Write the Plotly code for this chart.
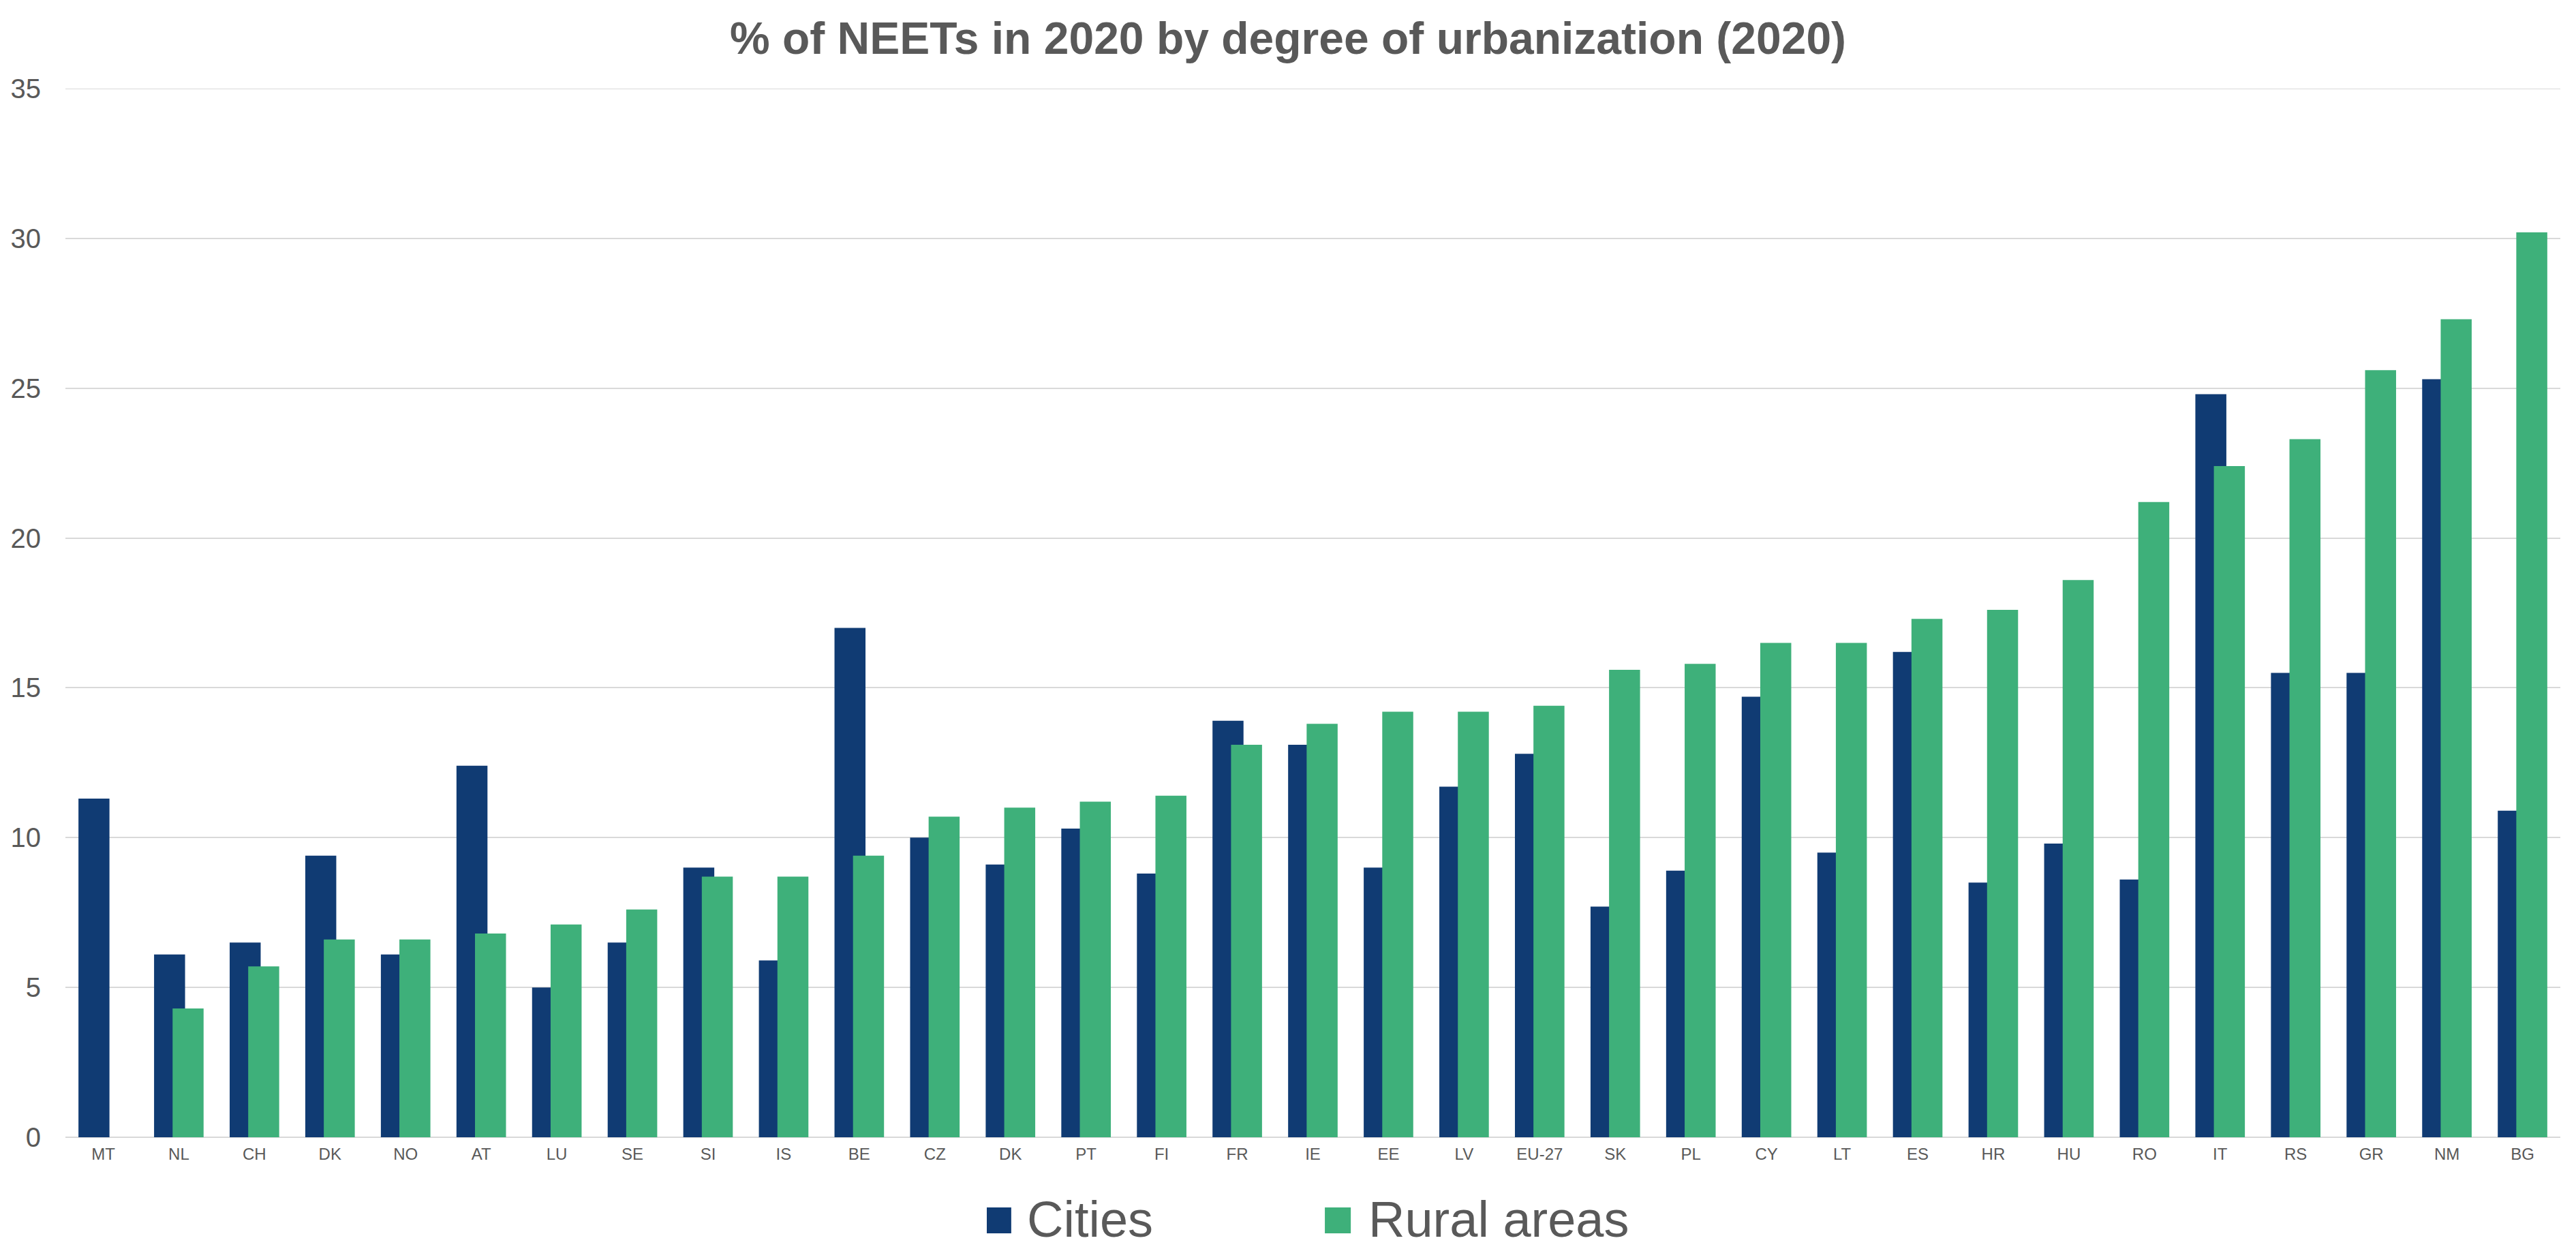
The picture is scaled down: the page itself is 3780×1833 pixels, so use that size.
import plotly.graph_objects as go

countries = ["MT", "NL", "CH", "DK", "NO", "AT", "LU", "SE", "SI", "IS", "BE", "CZ", "DK", "PT", "FI", "FR",
             "IE", "EE", "LV", "EU-27", "SK", "PL", "CY", "LT", "ES", "HR", "HU", "RO", "IT", "RS", "GR", "NM", "BG"]
cities = [11.3, 6.1, 6.5, 9.4, 6.1, 12.4, 5.0, 6.5, 9.0, 5.9, 17.0, 10.0, 9.1, 10.3, 8.8, 13.9,
          13.1, 9.0, 11.7, 12.8, 7.7, 8.9, 14.7, 9.5, 16.2, 8.5, 9.8, 8.6, 24.8, 15.5, 15.5, 25.3, 10.9]
rural = [None, 4.3, 5.7, 6.6, 6.6, 6.8, 7.1, 7.6, 8.7, 8.7, 9.4, 10.7, 11.0, 11.2, 11.4, 13.1,
         13.8, 14.2, 14.2, 14.4, 15.6, 15.8, 16.5, 16.5, 17.3, 17.6, 18.6, 21.2, 22.4, 23.3, 25.6, 27.3, 30.2]
y_ticks = [0, 5, 10, 15, 20, 25, 30, 35]

BLUE = "#103B73"
GREEN = "#3EB07A"
TXT = "#595959"
GRID = "#D9D9D9"
FONT = "Liberation Sans, Arial"

idx = list(range(len(countries)))

fig = go.Figure()
fig.add_trace(go.Bar(x=idx, y=cities, name="Cities", marker=dict(color=BLUE, line=dict(width=0)),
                     width=0.41, offset=-0.3275, showlegend=False))
fig.add_trace(go.Bar(x=idx, y=rural, name="Rural areas", marker=dict(color=GREEN, line=dict(width=0)),
                     width=0.41, offset=-0.0825, showlegend=False))

# manual legend (large square swatches)
legend_items = [("Cities", BLUE, 0.3693, 0.3791, 0.3849),
                ("Rural areas", GREEN, 0.5048, 0.5152, 0.5217)]
for name, col, x0, x1, xt in legend_items:
    fig.add_shape(type="rect", xref="paper", yref="paper", x0=x0, x1=x1, y0=-0.0916, y1=-0.0669,
                  fillcolor=col, line=dict(width=0))
    fig.add_annotation(xref="paper", yref="paper", x=xt, y=-0.078, xanchor="left", yanchor="middle",
                       text=name, showarrow=False,
                       font=dict(family=FONT, size=74, color=TXT))

# top gridline at the axis maximum
fig.add_shape(type="line", xref="paper", yref="y", x0=0, x1=1, y0=y_ticks[-1], y1=y_ticks[-1],
              line=dict(color=GRID, width=2), layer="below")

fig.update_layout(
    width=3780, height=1833,
    barmode="overlay",
    plot_bgcolor="white", paper_bgcolor="white",
    margin=dict(l=96, r=23, t=130, b=164, autoexpand=False),
    title=dict(text="<b>% of NEETs in 2020 by degree of urbanization (2020)</b>",
               x=0.5, xanchor="center", y=0.9694, yanchor="middle", yref="container",
               font=dict(family=FONT, size=66, color=TXT)),
    font=dict(family=FONT, color=TXT),
    showlegend=False,
)
fig.update_xaxes(range=[-0.5, len(countries) - 0.5], tickmode="array", tickvals=idx, ticktext=countries,
                 showgrid=False, zeroline=False, showline=False, ticks="",
                 tickfont=dict(family=FONT, size=24, color=TXT), ticklabelstandoff=8)
fig.update_yaxes(range=[0, 35], tickmode="array", tickvals=y_ticks, showgrid=True, gridcolor=GRID, gridwidth=2,
                 zeroline=True, zerolinecolor=GRID, zerolinewidth=2, showline=False, ticks="",
                 tickfont=dict(family=FONT, size=40, color=TXT), ticklabelstandoff=35)

fig.write_html("out.html", config={"displayModeBar": False},
               post_script="document.body.style.margin='0';document.body.style.overflow='hidden';")
